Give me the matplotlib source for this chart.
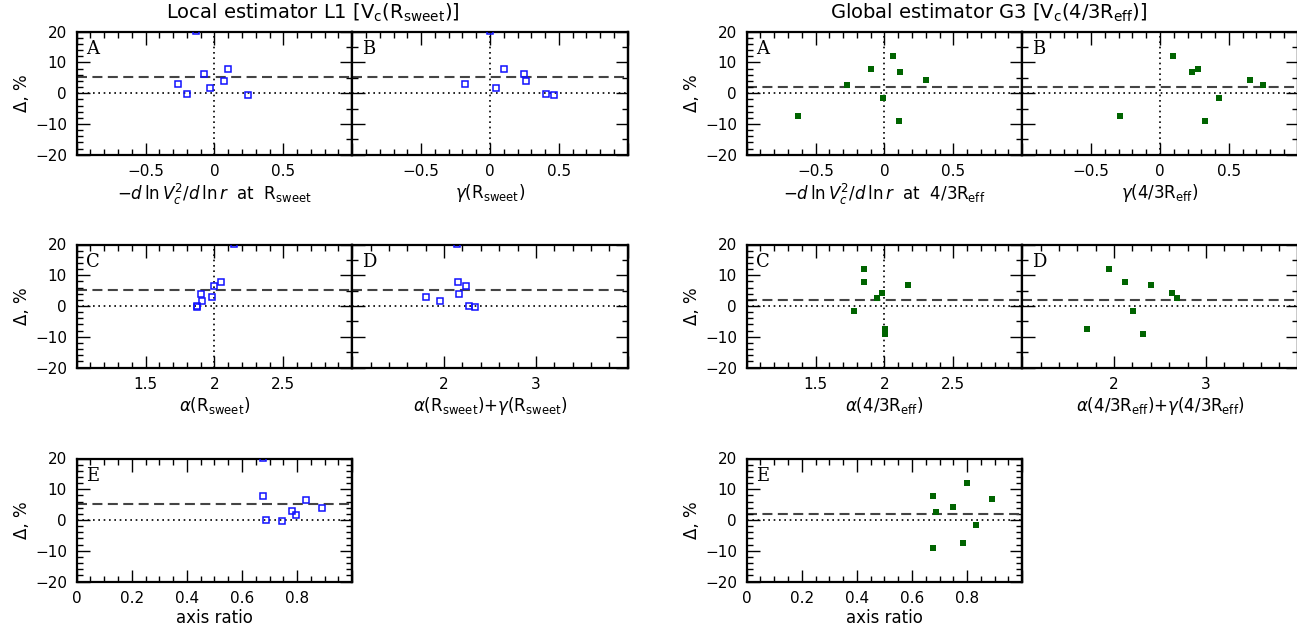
import numpy as np
import matplotlib.pyplot as plt
import matplotlib as mpl
from matplotlib.ticker import MultipleLocator

# Local estimator L1 (eight galaxies, same order in every panel)
L1_delta = [20.2, 7.75, 6.4, 4.05, 2.9, 1.65, -0.15, -0.45]
L1_slope = [-0.134, 0.100, -0.075, 0.069, -0.265, -0.031, -0.199, 0.241]
L1_gamma = [0.000, 0.105, 0.244, 0.261, -0.180, 0.044, 0.404, 0.462]
L1_alpha = [2.142, 2.047, 1.998, 1.903, 1.983, 1.911, 1.872, 1.872]
L1_alpha_gamma = [2.142, 2.149, 2.240, 2.160, 1.807, 1.953, 2.269, 2.335]
L1_axis_ratio = [0.678, 0.678, 0.833, 0.891, 0.783, 0.797, 0.687, 0.745]
L1_mean = 5.2

# Global estimator G3
G3_delta = [12.0, 7.95, 6.85, 4.35, 2.7, -1.7, -7.5, -9.05]
G3_slope = [0.059, -0.097, 0.110, 0.300, -0.270, -0.007, -0.629, 0.102]
G3_gamma = [0.095, 0.278, 0.234, 0.655, 0.750, 0.428, -0.288, 0.326]
G3_alpha = [1.854, 1.854, 2.173, 1.985, 1.949, 1.781, 2.007, 2.007]
G3_alpha_gamma = [1.949, 2.123, 2.400, 2.636, 2.690, 2.210, 1.709, 2.320]
G3_axis_ratio = [0.800, 0.678, 0.891, 0.748, 0.687, 0.833, 0.785, 0.678]
G3_mean = 1.9

mpl.rc('font', family='DejaVu Sans', size=11)
mpl.rc('mathtext', fontset='dejavusans')

W, H = 1297, 640
fig = plt.figure(figsize=(W / 100, H / 100), dpi=100)


def px_axes(left, top, width=275.5, height=123):
    return fig.add_axes([left / W, 1 - (top + height) / H, width / W, height / H])


def panel(left, top, x, y, mean, style, xlim, xmajor, xminor, xshow, xlabel, letter,
          vline=None, yleft_minor=2, yright_minor=5, ylabels=True):
    ax = px_axes(left, top)
    ax.set_xlim(xlim)
    ax.set_ylim(-20, 20)
    ax.axhline(0, color='black', lw=1.2, ls=(0, (1, 2.2)), zorder=1)
    ax.axhline(mean, color='#444444', lw=1.5, ls=(0, (4.8, 2.6)), zorder=1)
    if vline is not None:
        ax.axvline(vline, color='black', lw=1.2, ls=(0, (1, 2.2)), zorder=1)
    if style == 'open':
        ax.plot(x, y, 's', mfc='none', mec='#1010ff', ms=5, mew=1.1, zorder=3)
    else:
        ax.plot(x, y, 's', color='#006400', ms=5, mew=0, zorder=3)

    xt = np.arange(xlim[0], xlim[1] + 1e-6, xmajor)
    xl = [('%g' % v).replace('-', '\u2212') if any(abs(v - s) < 1e-6 for s in xshow) else '' for v in xt]
    ax.set_xticks(xt, xl)
    ax.xaxis.set_minor_locator(MultipleLocator(xminor))
    yt = [-20, -10, 0, 10, 20]
    ax.set_yticks(yt, ['\u221220', '\u221210', '0', '10', '20'] if ylabels else [''] * 5)
    ax.yaxis.set_minor_locator(MultipleLocator(yleft_minor))
    ax.tick_params(which='both', direction='in', top=True, right=False, width=1)
    ax.tick_params(which='major', length=9, pad=7)
    ax.tick_params(which='minor', length=4)
    for s in ax.spines.values():
        s.set_linewidth(1.6)

    sec = ax.secondary_yaxis('right')
    sec.set_yticks(yt, [''] * 5)
    sec.yaxis.set_minor_locator(MultipleLocator(yright_minor))
    sec.tick_params(which='both', direction='in', width=1)
    sec.tick_params(which='major', length=9)
    sec.tick_params(which='minor', length=4)
    sec.spines['right'].set_linewidth(1.6)

    ax.set_xlabel(xlabel, fontsize=12, labelpad=2)
    if ylabels:
        ax.set_ylabel('\u0394, %', fontsize=12, labelpad=3)
    ax.text(0.035, 0.93, letter, transform=ax.transAxes, ha='left', va='top',
            family='DejaVu Serif', fontsize=13)
    return ax


sets = [
    (0, L1_delta, L1_mean, 'open', L1_slope, L1_gamma, L1_alpha, L1_alpha_gamma, L1_axis_ratio,
     [r'$-d\,\ln V_c^2/d\,\ln r$  at  R$_{\rm sweet}$', r'$\gamma$(R$_{\rm sweet}$)',
      r'$\alpha$(R$_{\rm sweet}$)', r'$\alpha$(R$_{\rm sweet}$)+$\gamma$(R$_{\rm sweet}$)']),
    (670, G3_delta, G3_mean, 'filled', G3_slope, G3_gamma, G3_alpha, G3_alpha_gamma, G3_axis_ratio,
     [r'$-d\,\ln V_c^2/d\,\ln r$  at  4/3R$_{\rm eff}$', r'$\gamma$(4/3R$_{\rm eff}$)',
      r'$\alpha$(4/3R$_{\rm eff}$)', r'$\alpha$(4/3R$_{\rm eff}$)+$\gamma$(4/3R$_{\rm eff}$)']),
]

for dx, dl, mean, style, slope, gam, alp, alpgam, q, labs in sets:
    x0 = 76.7 + dx
    x1 = 352.2 + dx
    panel(x0, 31.7, slope, dl, mean, style, (-1, 1), 0.5, 0.1, [-0.5, 0, 0.5], labs[0], 'A', vline=0)
    panel(x1, 31.7, gam, dl, mean, style, (-1, 1), 0.5, 0.1, [-0.5, 0, 0.5], labs[1], 'B', vline=0,
          yleft_minor=5, ylabels=False)
    panel(x0, 244.5, alp, dl, mean, style, (1, 3), 0.5, 0.1, [1.5, 2, 2.5], labs[2], 'C', vline=2)
    panel(x1, 244.5, alpgam, dl, mean, style, (1, 4), 1, 0.2, [2, 3], labs[3], 'D',
          yleft_minor=5, ylabels=False)
    panel(x0, 458.5, q, dl, mean, style, (0, 1), 0.2, 0.05, [0, 0.2, 0.4, 0.6, 0.8], 'axis ratio', 'E',
          yright_minor=2)

fig.text(313 / W, 1 - 13 / H, r'Local estimator L1 [V$_{\rm c}$(R$_{\rm sweet}$)]',
         ha='center', va='center', fontsize=14)
fig.text(989 / W, 1 - 13 / H, r'Global estimator G3 [V$_{\rm c}$(4/3R$_{\rm eff}$)]',
         ha='center', va='center', fontsize=14)

fig.savefig('out.png', dpi=100)
